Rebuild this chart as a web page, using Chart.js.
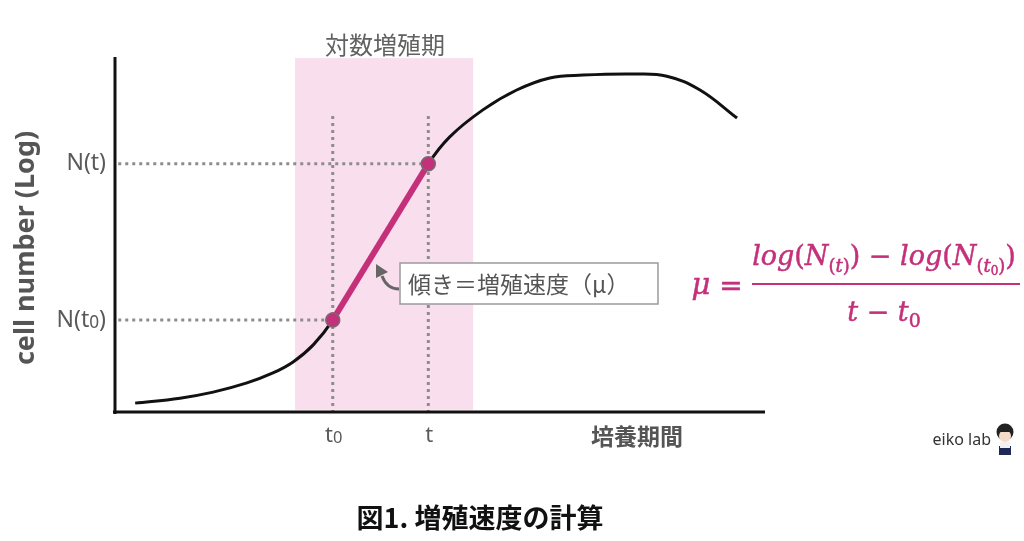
<!DOCTYPE html>
<html>
<head>
<meta charset="utf-8">
<script src="https://cdn.jsdelivr.net/npm/chart.js@4"></script>
<style>
  html, body { margin: 0; padding: 0; background: #fff; }
  canvas { display: block; }
</style>
</head>
<body>
<canvas id="chart" width="1024" height="541"></canvas>
<script>
// growth curve (x: time, y: log cell number, both 0..100)
const curveX = [3.1, 10.0, 15.1, 20.3, 24.3, 27.4, 30.5, 33.5, 40.8, 48.2, 51.5, 56.6, 61.8, 66.9, 72.0, 79.7, 84.9, 90.0, 95.7];
const curveY = [2.5, 3.9, 5.6, 8.2, 11.0, 14.1, 18.9, 25.9, 47.6, 69.9, 77.5, 85.1, 90.7, 94.1, 94.9, 95.2, 94.6, 90.7, 82.8];

// the two measured points t0 / t and N(t0) / N(t)
const slopeX = [33.5, 48.2];
const slopeY = [25.9, 69.9];
const guideTop = 83.4;

// log phase band
const phaseX = [27.7, 55.1];
const phaseY = [0.6, 99.7];

const xTickLabels = ['t0', 't'];
const yTickLabels = ['N(t0)', 'N(t)'];

const black = '#111';
const magenta = '#c4307a';
const dotted = '#8c8c8c';
const pink = '#f9dfee';
const grey = '#616161';

const pts = (xs, ys) => xs.map((x, i) => ({x: x, y: ys[i]}));

// draws "t0" style text with a small subscript 0
function subText(ctx, txt, x, y, size, align) {
    const parts = txt.split('0');
    ctx.font = `${size}px "Noto Sans", sans-serif`;
    const w1 = ctx.measureText(parts[0]).width;
    const w3 = parts.length > 1 ? ctx.measureText(parts[1]).width : 0;
    ctx.font = `${size * 0.75}px "Noto Sans", sans-serif`;
    const w2 = parts.length > 1 ? ctx.measureText('0').width : 0;
    const total = w1 + w2 + w3;
    let sx = align === 'right' ? x - total : align === 'center' ? x - total / 2 : x;
    ctx.textAlign = 'left';
    ctx.textBaseline = 'middle';
    ctx.font = `${size}px "Noto Sans", sans-serif`;
    ctx.fillText(parts[0], sx, y);
    if (parts.length > 1) {
        ctx.font = `${size * 0.75}px "Noto Sans", sans-serif`;
        ctx.fillText('0', sx + w1, y + size * 0.12);
        ctx.font = `${size}px "Noto Sans", sans-serif`;
        ctx.fillText(parts[1], sx + w1 + w2, y);
    }
}

function runs(ctx, list, cx, base) {
    const fontOf = r => `${r.it ? 'italic ' : ''}${r.s}px "DejaVu Serif", serif`;
    let total = 0;
    list.forEach(r => { ctx.font = fontOf(r); r.w = ctx.measureText(r.t).width; total += r.w; });
    let x = cx - total / 2;
    ctx.textAlign = 'left';
    ctx.textBaseline = 'alphabetic';
    ctx.lineWidth = 0.5;
    list.forEach(r => {
        ctx.font = fontOf(r);
        ctx.fillText(r.t, x, base + (r.dy || 0));
        ctx.strokeText(r.t, x, base + (r.dy || 0));
        x += r.w;
    });
}

const decor = {
    id: 'decor',
    beforeDatasetsDraw(chart) {
        const {ctx, scales: {x, y}} = chart;
        ctx.save();
        ctx.fillStyle = pink;
        const x0 = x.getPixelForValue(phaseX[0]), x1 = x.getPixelForValue(phaseX[1]);
        const y0 = y.getPixelForValue(phaseY[1]), y1 = y.getPixelForValue(phaseY[0]);
        ctx.fillRect(x0, y0, x1 - x0, y1 - y0);
        ctx.restore();
    },
    afterDatasetsDraw(chart) {
        const {ctx, chartArea: a, scales: {x, y}} = chart;
        ctx.save();
        // axes
        ctx.strokeStyle = black;
        ctx.lineWidth = 3;
        ctx.beginPath();
        ctx.moveTo(a.left, a.top);
        ctx.lineTo(a.left, a.bottom + 2);
        ctx.moveTo(a.left - 2, a.bottom);
        ctx.lineTo(a.right, a.bottom);
        ctx.stroke();

        // band label
        ctx.fillStyle = grey;
        ctx.font = '24px "Noto Sans CJK JP", sans-serif';
        ctx.textAlign = 'center';
        ctx.textBaseline = 'middle';
        ctx.fillText('対数増殖期', 385, 45);

        // tick labels
        ctx.fillStyle = '#5a5a5a';
        slopeX.forEach((v, i) => subText(ctx, xTickLabels[i], x.getPixelForValue(v) + 1, 436, 22, 'center'));
        slopeY.forEach((v, i) => subText(ctx, yTickLabels[i], 106, y.getPixelForValue(v), 23, 'right'));

        // axis titles
        ctx.fillStyle = '#555';
        ctx.font = 'bold 23px "Noto Sans CJK JP", sans-serif';
        ctx.textAlign = 'center';
        ctx.fillText('培養期間', 637, 436);
        ctx.save();
        ctx.translate(26, 248);
        ctx.rotate(-Math.PI / 2);
        ctx.font = 'bold 27px "Noto Sans", sans-serif';
        ctx.fillText('cell number (Log)', 0, 0);
        ctx.restore();

        // slope callout
        ctx.fillStyle = '#fff';
        ctx.strokeStyle = '#9a9a9a';
        ctx.lineWidth = 1.5;
        ctx.fillRect(400, 263, 258, 41);
        ctx.strokeRect(400, 263, 258, 41);
        ctx.fillStyle = '#555';
        ctx.font = '23px "Noto Sans CJK JP", sans-serif';
        ctx.textAlign = 'left';
        ctx.fillText('傾き＝増殖速度（μ）', 408, 284);
        ctx.strokeStyle = '#666';
        ctx.lineWidth = 3;
        ctx.beginPath();
        ctx.moveTo(399, 289);
        ctx.quadraticCurveTo(387, 289, 382, 276);
        ctx.stroke();
        ctx.fillStyle = '#666';
        ctx.beginPath();
        ctx.moveTo(376, 264);
        ctx.lineTo(388, 272);
        ctx.lineTo(376, 278);
        ctx.closePath();
        ctx.fill();

        // formula
        ctx.fillStyle = magenta;
        ctx.strokeStyle = magenta;
        runs(ctx, [{t: 'μ', s: 29, it: true}], 701, 294);
        runs(ctx, [{t: '=', s: 28}], 731, 295);
        ctx.lineWidth = 2;
        ctx.beginPath();
        ctx.moveTo(752, 284);
        ctx.lineTo(1020, 284);
        ctx.stroke();
        runs(ctx, [
            {t: 'log', s: 27, it: true}, {t: '(', s: 27}, {t: 'N', s: 27, it: true},
            {t: '(', s: 18, dy: 7}, {t: 't', s: 18, it: true, dy: 7}, {t: ')', s: 18, dy: 7},
            {t: ')', s: 27}, {t: ' − ', s: 27},
            {t: 'log', s: 27, it: true}, {t: '(', s: 27}, {t: 'N', s: 27, it: true},
            {t: '(', s: 18, dy: 7}, {t: 't', s: 18, it: true, dy: 7}, {t: '0', s: 12, dy: 10}, {t: ')', s: 18, dy: 7},
            {t: ')', s: 27}
        ], 884, 265);
        runs(ctx, [
            {t: 't', s: 27, it: true}, {t: ' − ', s: 27}, {t: 't', s: 27, it: true}, {t: '0', s: 19, dy: 6}
        ], 884, 321);

        // title
        ctx.fillStyle = '#111';
        ctx.font = 'bold 27px "Noto Sans CJK JP", sans-serif';
        ctx.textAlign = 'center';
        ctx.textBaseline = 'middle';
        ctx.fillText('図1. 増殖速度の計算', 480, 518);

        // logo
        ctx.fillStyle = '#333';
        ctx.font = '16px "Noto Sans", sans-serif';
        ctx.textAlign = 'right';
        ctx.fillText('eiko lab', 991, 440);
        ctx.fillStyle = '#1e2a55';
        ctx.fillRect(999, 446, 12, 9);
        ctx.fillStyle = '#f2f2f2';
        ctx.fillRect(1000, 442, 10, 6);
        ctx.fillStyle = '#222';
        ctx.beginPath();
        ctx.arc(1005, 432, 8.5, 0, Math.PI * 2);
        ctx.fill();
        ctx.fillStyle = '#f6dcc8';
        ctx.beginPath();
        ctx.arc(1005, 436, 6, 0, Math.PI * 2);
        ctx.fill();
        ctx.fillStyle = '#222';
        ctx.fillRect(998, 428, 14, 4);
        ctx.restore();
    }
};

new Chart(document.getElementById('chart'), {
    type: 'scatter',
    data: {
        datasets: [
            {
                data: pts(slopeX, slopeY),
                showLine: true,
                borderColor: magenta,
                borderWidth: 6,
                pointRadius: 7,
                pointBackgroundColor: magenta,
                pointBorderColor: '#7a6870',
                pointBorderWidth: 1.5,
                order: 0
            },
            {
                data: pts(curveX, curveY),
                showLine: true,
                borderColor: black,
                borderWidth: 3,
                pointRadius: 0,
                tension: 0.4,
                order: 1
            },
            ...slopeY.map((v, i) => ({
                data: [{x: 0.5, y: v}, {x: slopeX[i], y: v}],
                showLine: true, borderColor: dotted, borderWidth: 3, borderDash: [3, 4],
                pointRadius: 0, order: 2
            })),
            ...slopeX.map(v => ({
                data: [{x: v, y: guideTop}, {x: v, y: 0}],
                showLine: true, borderColor: dotted, borderWidth: 3, borderDash: [3, 4],
                pointRadius: 0, order: 2
            }))
        ]
    },
    options: {
        responsive: false,
        animation: false,
        events: [],
        layout: {padding: {left: 115, right: 259, top: 57, bottom: 129}},
        scales: {
            x: {type: 'linear', min: 0, max: 100, display: false},
            y: {type: 'linear', min: 0, max: 100, display: false}
        },
        plugins: {legend: {display: false}, tooltip: {enabled: false}}
    },
    plugins: [decor]
});
</script>
</body>
</html>
